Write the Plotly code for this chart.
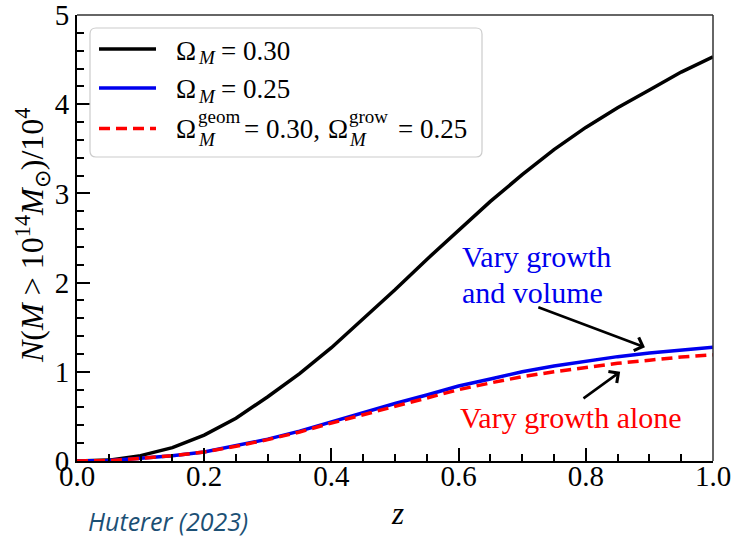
import plotly.graph_objects as go

# Redshift grid and cumulative cluster counts N(M > 1e14 Msun) / 1e4
z = [0.00, 0.05, 0.10, 0.15, 0.20, 0.25, 0.30, 0.35, 0.40, 0.45, 0.50,
     0.55, 0.60, 0.65, 0.70, 0.75, 0.80, 0.85, 0.90, 0.95, 1.00]
n_om030 = [0.00, 0.01, 0.06, 0.15, 0.29, 0.48, 0.72, 0.98, 1.27, 1.59, 1.92,
           2.26, 2.59, 2.91, 3.21, 3.49, 3.74, 3.96, 4.16, 4.36, 4.53]
n_om025 = [0.00, 0.005, 0.03, 0.06, 0.10, 0.17, 0.245, 0.335, 0.44, 0.54, 0.645,
           0.74, 0.84, 0.92, 1.00, 1.065, 1.12, 1.17, 1.21, 1.245, 1.275]
n_geom030_grow025 = [0.00, 0.005, 0.03, 0.06, 0.10, 0.165, 0.24, 0.325, 0.425, 0.52, 0.615,
                     0.71, 0.80, 0.875, 0.945, 1.00, 1.05, 1.095, 1.13, 1.165, 1.19]

x_ticks = [0.0, 0.2, 0.4, 0.6, 0.8, 1.0]
x_tick_labels = ["0.0", "0.2", "0.4", "0.6", "0.8", "1.0"]
y_ticks = [0, 1, 2, 3, 4, 5]
y_tick_labels = ["0", "1", "2", "3", "4", "5"]

W, H = 733, 539
L, R, T, B = 77, 713, 15, 461  # plot area in pixels


def px(x):
    return (x - L) / (R - L)


def py(y):
    return (B - y) / (B - T)


SERIF = "Liberation Serif"

fig = go.Figure()
fig.add_trace(go.Scatter(x=z, y=n_om030, mode="lines", name="Ω_M = 0.30",
                         line=dict(color="black", width=3.5), showlegend=False))
fig.add_trace(go.Scatter(x=z, y=n_om025, mode="lines", name="Ω_M = 0.25",
                         line=dict(color="#0000ee", width=3.5), showlegend=False))
fig.add_trace(go.Scatter(x=z, y=n_geom030_grow025, mode="lines",
                         name="Ω_M^geom = 0.30, Ω_M^grow = 0.25",
                         line=dict(color="#ff0000", width=3.5, dash="11px,6px"),
                         showlegend=False))

shapes = []
annotations = []

# Top and right frame edges
shapes.append(dict(type="line", xref="paper", yref="paper", x0=0, x1=1, y0=1, y1=1,
                   line=dict(color="#333333", width=1.5)))
shapes.append(dict(type="line", xref="paper", yref="paper", x0=1, x1=1, y0=0, y1=1,
                   line=dict(color="#333333", width=1.5)))

# Legend frame with rounded corners
lx0, lx1, ly0, ly1, rad = 90, 482, 28, 157, 6
path = (f"M{px(lx0 + rad)},{py(ly0)} L{px(lx1 - rad)},{py(ly0)} "
        f"Q{px(lx1)},{py(ly0)} {px(lx1)},{py(ly0 + rad)} "
        f"L{px(lx1)},{py(ly1 - rad)} Q{px(lx1)},{py(ly1)} {px(lx1 - rad)},{py(ly1)} "
        f"L{px(lx0 + rad)},{py(ly1)} Q{px(lx0)},{py(ly1)} {px(lx0)},{py(ly1 - rad)} "
        f"L{px(lx0)},{py(ly0 + rad)} Q{px(lx0)},{py(ly0)} {px(lx0 + rad)},{py(ly0)} Z")
shapes.append(dict(type="path", xref="paper", yref="paper", path=path,
                   fillcolor="rgba(255,255,255,0.85)", line=dict(color="#cccccc", width=1.2)))

# Legend line samples
for yy, col, dash in [(49, "black", "solid"), (88, "#0000ee", "solid"), (128.5, "#ff0000", "11px,6px")]:
    shapes.append(dict(type="line", xref="paper", yref="paper",
                       x0=px(99), x1=px(156), y0=py(yy), y1=py(yy),
                       line=dict(color=col, width=3.5, dash=dash)))


def txt(x, y, s, size, color="black", family=SERIF, xanchor="left"):
    annotations.append(dict(xref="paper", yref="paper", x=px(x), y=py(y), text=s,
                            showarrow=False, xanchor=xanchor, yanchor="middle",
                            font=dict(family=family, size=size, color=color)))


MAIN, SMALL = 27, 19
# Row 1 and row 2
for yc, val in [(51, "0.30"), (89.5, "0.25")]:
    txt(174, yc, "Ω", MAIN)
    txt(196, yc + 7, "<i>M</i>", SMALL)
    txt(219, yc, "= " + val, MAIN)
# Row 3
yc = 129
txt(174, yc, "Ω", MAIN)
txt(196, yc - 13, "geom", SMALL)
txt(196, yc + 10, "<i>M</i>", SMALL)
txt(242, yc, "= 0.30,", MAIN)
txt(326, yc, "Ω", MAIN)
txt(347, yc - 13, "grow", SMALL)
txt(347, yc + 10, "<i>M</i>", SMALL)
txt(396, yc, "= 0.25", MAIN)

# Axis titles
annotations.append(dict(xref="paper", yref="paper", x=px(32), y=py(235), textangle=-90,
                        text="<i>N</i>(<i>M</i> > 10<sup>14</sup><i>M</i><sub>⊙</sub>)/10<sup>4</sup>",
                        showarrow=False, xanchor="center", yanchor="middle",
                        font=dict(family=SERIF, size=32, color="black")))
txt(397, 513, "<i>z</i>", 31, xanchor="center")
txt(86, 521, "<i>Huterer (2023)</i>", 25, color="#1c5075", family="Open Sans")

# Curve labels
txt(460, 256, "Vary growth", 30, color="#0000ee")
txt(460, 292, "and volume", 30, color="#0000ee")
txt(458, 417, "Vary growth alone", 30, color="#ff0000")

# Arrows pointing at the two lower curves
annotations.append(dict(x=0.893, y=1.275, ax=0.723, ay=1.73, xref="x", yref="y",
                        axref="x", ayref="y", text="", showarrow=True, arrowhead=4,
                        arrowsize=1.1, arrowwidth=2.5, arrowcolor="black"))
annotations.append(dict(x=0.854, y=1.00, ax=0.794, ay=0.69, xref="x", yref="y",
                        axref="x", ayref="y", text="", showarrow=True, arrowhead=4,
                        arrowsize=1.1, arrowwidth=2.5, arrowcolor="black"))

fig.update_layout(
    width=W, height=H,
    margin=dict(l=L, r=W - R, t=T, b=H - B, autoexpand=False),
    paper_bgcolor="white", plot_bgcolor="white",
    shapes=shapes, annotations=annotations,
    showlegend=False,
)
fig.update_xaxes(range=[0, 1], tickvals=x_ticks, ticktext=x_tick_labels, automargin=False,
                 ticks="inside", ticklen=13, tickwidth=2, tickcolor="black",
                 showline=True, linecolor="black", linewidth=2, showgrid=False, zeroline=False,
                 ticklabeloverflow="allow", ticklabelstandoff=-12,
                 tickfont=dict(family=SERIF, size=29, color="black"),
                 minor=dict(dtick=0.05, ticks="inside", ticklen=7, tickwidth=1.5,
                            tickcolor="black", showgrid=False))
fig.update_yaxes(range=[0, 5], tickvals=y_ticks, ticktext=y_tick_labels, automargin=False,
                 ticks="inside", ticklen=13, tickwidth=2, tickcolor="black",
                 showline=True, linecolor="black", linewidth=2, showgrid=False, zeroline=False,
                 ticklabeloverflow="allow",
                 tickfont=dict(family=SERIF, size=29, color="black"),
                 minor=dict(dtick=0.2, ticks="inside", ticklen=7, tickwidth=1.5,
                            tickcolor="black", showgrid=False))

fig.write_html("out.html")
